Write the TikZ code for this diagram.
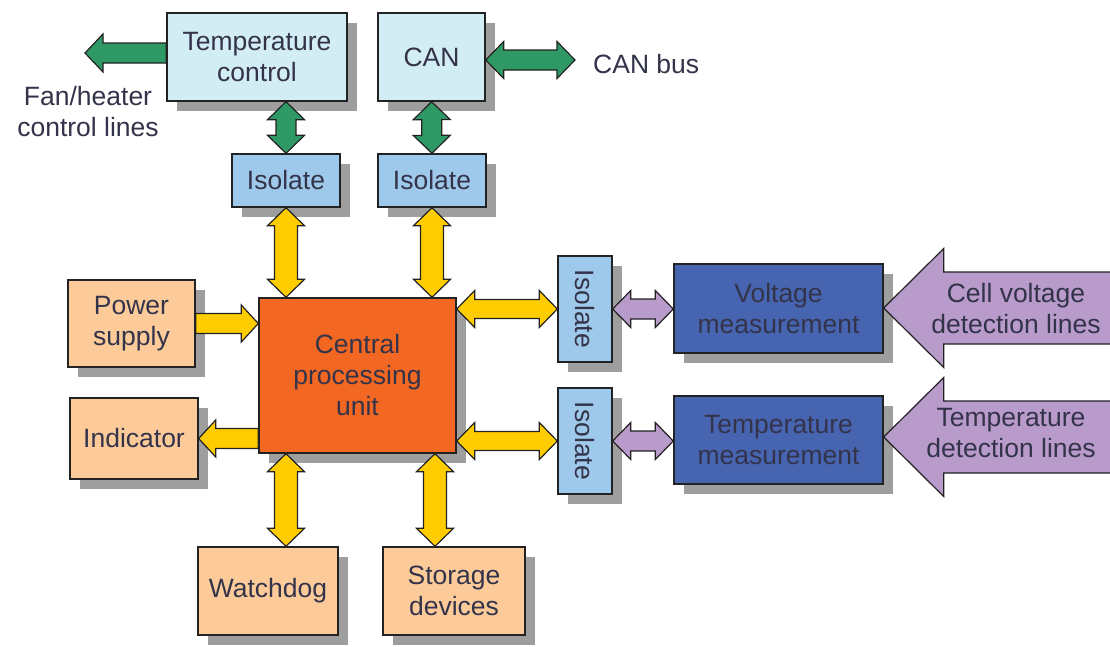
\documentclass[tikz,border=0pt]{standalone}
\usepackage{fontspec}
\setmainfont{Liberation Sans}
\usetikzlibrary{calc,shadows}

\definecolor{paleblue}{HTML}{D3EDF4}
\definecolor{isoblue}{HTML}{9FC9EA}
\definecolor{peach}{HTML}{FDCB99}
\definecolor{cpuorange}{HTML}{F26722}
\definecolor{deepblue}{HTML}{4764B1}
\definecolor{busgreen}{HTML}{2F9966}
\definecolor{busyellow}{HTML}{FFCC00}
\definecolor{lilac}{HTML}{B89ACB}
\definecolor{txt}{HTML}{33334A}
\definecolor{edge}{HTML}{222222}

\tikzset{
  blk/.style={draw=edge, line width=1.4pt, text=txt, align=center,
    font=\fontsize{26.5}{31}\selectfont, inner sep=0pt,
    drop shadow={shadow xshift=9.5pt, shadow yshift=-9.5pt, fill=black!38, opacity=1}},
  lbl/.style={text=txt, align=center, font=\fontsize{26.5}{31}\selectfont, inner sep=0pt},
  fatgreen/.style={draw=edge, fill=busgreen, line width=1.2pt, line join=miter},
  fatyellow/.style={draw=edge, fill=busyellow, line width=1.2pt, line join=miter},
  fatlilac/.style={draw=edge, fill=lilac, line width=1.2pt, line join=miter},
}

% double-headed block arrow from #3 to #4; #1 shaft half width
\newcommand\dblarrow[4][10pt]{%
  \filldraw[#2] (#3)
    -- ($(#3)!18pt!(#4)!18.5pt!90:(#4)$)
    -- ($(#3)!18pt!(#4)!#1!90:(#4)$)
    -- ($(#4)!18pt!(#3)!#1!-90:(#3)$)
    -- ($(#4)!18pt!(#3)!18.5pt!-90:(#3)$)
    -- (#4)
    -- ($(#4)!18pt!(#3)!18.5pt!90:(#3)$)
    -- ($(#4)!18pt!(#3)!#1!90:(#3)$)
    -- ($(#3)!18pt!(#4)!#1!-90:(#4)$)
    -- ($(#3)!18pt!(#4)!18.5pt!-90:(#4)$)
    -- cycle;}

% single block arrow from #2 (tail) to #3 (tip); #4 head length, #5 head half width, #6 shaft half width
\newcommand\sglarrow[6]{%
  \filldraw[#1] ($(#2)!#6!90:(#3)$)
    -- ($(#3)!#4!(#2)!#6!-90:(#2)$)
    -- ($(#3)!#4!(#2)!#5!-90:(#2)$)
    -- (#3)
    -- ($(#3)!#4!(#2)!#5!90:(#2)$)
    -- ($(#3)!#4!(#2)!#6!90:(#2)$)
    -- ($(#2)!#6!-90:(#3)$)
    -- cycle;}

\begin{document}
\begin{tikzpicture}[x=1pt,y=-1pt]
\useasboundingbox (0,0) rectangle (1110,646);

% blocks
\node[blk, fill=paleblue, minimum width=180, minimum height=88] (tc) at (257,57) {Temperature\\control};
\node[blk, fill=paleblue, minimum width=107, minimum height=88] (can) at (431.5,57) {CAN};
\node[blk, fill=isoblue, minimum width=108, minimum height=53] (iso1) at (286,180.5) {Isolate};
\node[blk, fill=isoblue, minimum width=108, minimum height=53] (iso2) at (432,180.5) {Isolate};
\node[blk, fill=cpuorange, minimum width=197, minimum height=155] (cpu) at (357.5,375.5) {Central\\processing\\unit};
\node[blk, fill=peach, minimum width=127, minimum height=87] (ps) at (131.5,323.5) {Power\\supply};
\node[blk, fill=peach, minimum width=128, minimum height=81] (ind) at (134,438.5) {Indicator};
\node[blk, fill=peach, minimum width=140, minimum height=88] (wd) at (268,591) {Watchdog};
\node[blk, fill=peach, minimum width=142, minimum height=88] (sto) at (454,591) {Storage\\devices};
\node[blk, fill=isoblue, minimum width=54, minimum height=106] (iso3) at (585,309) {};
\node[lbl, rotate=-90] at (iso3.center) {Isolate};
\node[blk, fill=isoblue, minimum width=54, minimum height=106] (iso4) at (585,441) {};
\node[lbl, rotate=-90] at (iso4.center) {Isolate};
\node[blk, fill=deepblue, minimum width=209, minimum height=89] (volt) at (778.5,308.5) {Voltage\\measurement};
\node[blk, fill=deepblue, minimum width=209, minimum height=88] (tmeas) at (778.5,440) {Temperature\\measurement};

% free ends and outside labels
\coordinate (fan) at (85,53);
\coordinate (canbus) at (575,60);
\coordinate (vin) at (1120,308);
\coordinate (tin) at (1120,437);
\node[lbl] (fanlbl) at (88,112) {Fan/heater\\control lines};
\node[lbl, anchor=west] (buslbl) at (593,64) {CAN bus};

% green links
\sglarrow{fatgreen}{[yshift=4pt]tc.west}{fan}{18pt}{19pt}{10pt}
\dblarrow{fatgreen}{iso1.north |- tc.south}{iso1.north}
\dblarrow{fatgreen}{[yshift=-3pt]can.east}{canbus}
\dblarrow{fatgreen}{can.south}{iso2.north}

% yellow links to the processor
\dblarrow[11.5pt]{fatyellow}{iso1.south}{cpu.north -| iso1.south}
\dblarrow[11.5pt]{fatyellow}{iso2.south}{cpu.north -| iso2.south}
\dblarrow[9.5pt]{fatyellow}{iso3.west -| cpu.east}{iso3.west}
\dblarrow[9.5pt]{fatyellow}{iso4.west -| cpu.east}{iso4.west}
\sglarrow{fatyellow}{ps.east}{ps.east -| cpu.west}{17pt}{18.5pt}{10pt}
\sglarrow{fatyellow}{ind.east -| cpu.west}{ind.east}{17pt}{18.5pt}{10pt}
\dblarrow[11.5pt]{fatyellow}{cpu.south -| iso1.south}{wd.north -| iso1.south}
\dblarrow[11.5pt]{fatyellow}{[xshift=3pt]cpu.south -| iso2.south}{[xshift=3pt]sto.north -| iso2.south}

% measurement links
\dblarrow{fatlilac}{iso3.east}{iso3.east -| volt.west}
\dblarrow{fatlilac}{iso4.east}{iso4.east -| tmeas.west}
\sglarrow{fatlilac}{vin}{vin -| volt.east}{60pt}{59.5pt}{36pt}
\sglarrow{fatlilac}{tin}{tin -| tmeas.east}{60pt}{59.5pt}{36pt}
\node[lbl] (vlines) at (1016,309) {Cell voltage\\detection lines};
\node[lbl] (tlines) at (1011,433) {Temperature\\detection lines};
\end{tikzpicture}
\end{document}
